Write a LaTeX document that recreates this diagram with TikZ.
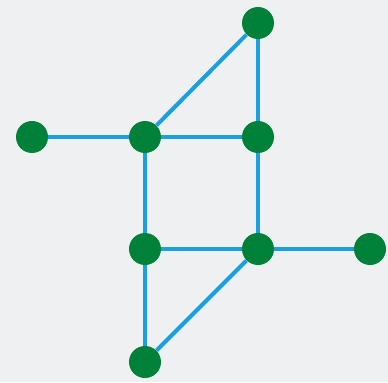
\documentclass[tikz,border=0pt]{standalone}
\usepackage{xcolor}
\usepackage{tikz}
\definecolor{bgcol}{HTML}{EFF0F2}
\definecolor{vertcol}{HTML}{00813A}
\definecolor{edgecol}{HTML}{1A9FE0}
\tikzset{
  vert/.style={circle, fill=vertcol, inner sep=0pt, minimum size=0.64cm},
  edge/.style={draw=edgecol, line width=0.08cm}
}
\begin{document}
\begin{tikzpicture}
\fill[bgcol] (0,0) rectangle (7.76,7.64);
\useasboundingbox (0,0) rectangle (7.76,7.64);
\node[vert] (top) at (5.16,7.18) {};
\node[vert] (left) at (0.64,4.90) {};
\node[vert] (ul) at (2.90,4.90) {};
\node[vert] (ur) at (5.16,4.90) {};
\node[vert] (ll) at (2.90,2.66) {};
\node[vert] (lr) at (5.16,2.66) {};
\node[vert] (right) at (7.40,2.66) {};
\node[vert] (bottom) at (2.90,0.40) {};
\draw[edge] (top) -- (ur);
\draw[edge] (top) -- (ul);
\draw[edge] (left) -- (ul);
\draw[edge] (ul) -- (ur);
\draw[edge] (ul) -- (ll);
\draw[edge] (ur) -- (lr);
\draw[edge] (ll) -- (lr);
\draw[edge] (lr) -- (right);
\draw[edge] (lr) -- (bottom);
\draw[edge] (ll) -- (bottom);
\end{tikzpicture}
\end{document}
